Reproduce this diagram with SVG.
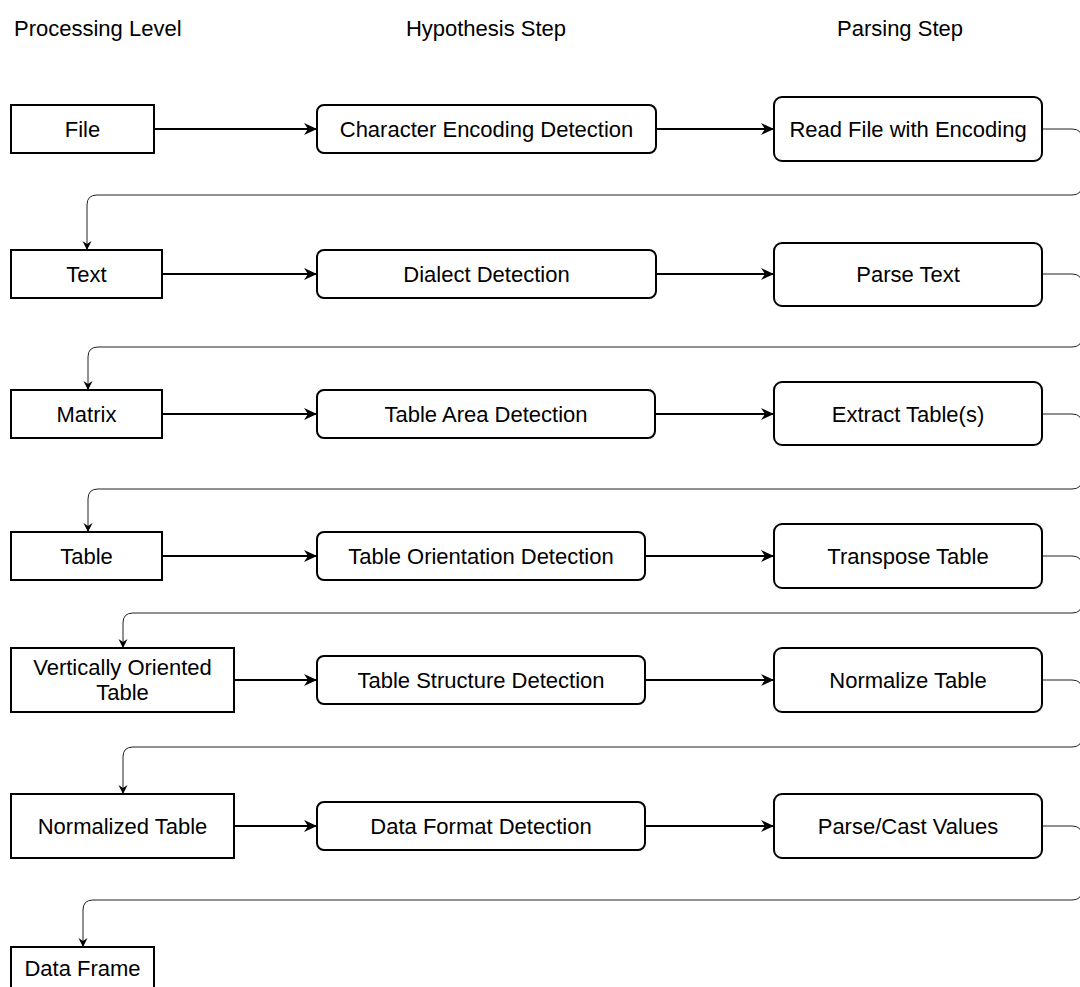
<svg xmlns="http://www.w3.org/2000/svg" width="1080" height="987" viewBox="0 0 1080 987">
<defs>
<style>
.lvl{fill:#fff;stroke:#000;stroke-width:2}
.hyp,.prs{fill:#fff;stroke:#000;stroke-width:2}
.t{font-family:"Liberation Sans",Arial,Helvetica,sans-serif;font-size:22px;fill:#000;text-anchor:middle;dominant-baseline:central}
.h{font-family:"Liberation Sans",Arial,Helvetica,sans-serif;font-size:22px;fill:#000;dominant-baseline:central}
.e{fill:none;stroke:#000;stroke-width:2}
.r{fill:none;stroke:#222;stroke-width:1}
</style>
<marker id="a" markerUnits="userSpaceOnUse" markerWidth="14" markerHeight="12" refX="13" refY="6" orient="auto">
<path d="M0,0 L13,6 L0,12 L4,6 z" fill="#000"/>
</marker>
<marker id="s" markerUnits="userSpaceOnUse" markerWidth="10" markerHeight="10" refX="9" refY="4.5" orient="auto">
<path d="M0,0 L9,4.5 L0,9 L3,4.5 z" fill="#000"/>
</marker>
</defs>
<rect width="1080" height="987" fill="#fff"/>
<g id="headers">
<text class="h" x="14" y="28">Processing Level</text>
<text class="h" x="486" y="28" text-anchor="middle">Hypothesis Step</text>
<text class="h" x="900" y="28" text-anchor="middle">Parsing Step</text>
</g>
<g id="connectors">
<path class="e" d="M154,129 H317" marker-end="url(#a)"/>
<path class="e" d="M656,129 H774" marker-end="url(#a)"/>
<path class="e" d="M162,274 H317" marker-end="url(#a)"/>
<path class="e" d="M656,274 H774" marker-end="url(#a)"/>
<path class="e" d="M162,414 H317" marker-end="url(#a)"/>
<path class="e" d="M655,414 H774" marker-end="url(#a)"/>
<path class="e" d="M162,556 H317" marker-end="url(#a)"/>
<path class="e" d="M645,556 H774" marker-end="url(#a)"/>
<path class="e" d="M234,680 H317" marker-end="url(#a)"/>
<path class="e" d="M645,680 H774" marker-end="url(#a)"/>
<path class="e" d="M234,826 H317" marker-end="url(#a)"/>
<path class="e" d="M645,826 H774" marker-end="url(#a)"/>
<path class="r" d="M1042,129 H1072 Q1082,129 1082,139 V185 Q1082,195 1072,195 H97 Q87,195 87,205 V250" marker-end="url(#s)"/>
<path class="r" d="M1042,274 H1072 Q1082,274 1082,284 V337 Q1082,347 1072,347 H98 Q88,347 88,357 V390" marker-end="url(#s)"/>
<path class="r" d="M1042,414 H1072 Q1082,414 1082,424 V479 Q1082,489 1072,489 H98 Q88,489 88,499 V532" marker-end="url(#s)"/>
<path class="r" d="M1042,556 H1072 Q1082,556 1082,566 V603 Q1082,613 1072,613 H133 Q123,613 123,623 V648" marker-end="url(#s)"/>
<path class="r" d="M1042,680 H1072 Q1082,680 1082,690 V737 Q1082,747 1072,747 H133 Q123,747 123,757 V794" marker-end="url(#s)"/>
<path class="r" d="M1042,826 H1072 Q1082,826 1082,836 V890 Q1082,900 1072,900 H93 Q83,900 83,910 V947" marker-end="url(#s)"/>
</g>
<g id="n-file"><rect class="lvl" x="11" y="105" width="143" height="48"/><text class="t" x="82.5" y="129">File</text></g>
<g id="n-ced"><rect class="hyp" x="317" y="105" width="339" height="48" rx="7"/><text class="t" x="486.5" y="129">Character Encoding Detection</text></g>
<g id="n-read"><rect class="prs" x="774" y="97" width="268" height="64" rx="8"/><text class="t" x="908" y="129">Read File with Encoding</text></g>

<g id="n-text"><rect class="lvl" x="11" y="250" width="151" height="48"/><text class="t" x="86.5" y="274">Text</text></g>
<g id="n-dialect"><rect class="hyp" x="317" y="250" width="339" height="48" rx="7"/><text class="t" x="486.5" y="274">Dialect Detection</text></g>
<g id="n-parsetext"><rect class="prs" x="774" y="243" width="268" height="63" rx="8"/><text class="t" x="908" y="274">Parse Text</text></g>

<g id="n-matrix"><rect class="lvl" x="11" y="390" width="151" height="48"/><text class="t" x="86.5" y="414">Matrix</text></g>
<g id="n-tad"><rect class="hyp" x="317" y="390" width="338" height="48" rx="7"/><text class="t" x="486" y="414">Table Area Detection</text></g>
<g id="n-extract"><rect class="prs" x="774" y="382" width="268" height="63" rx="8"/><text class="t" x="908" y="414">Extract Table(s)</text></g>

<g id="n-table"><rect class="lvl" x="11" y="532" width="151" height="48"/><text class="t" x="86.5" y="556">Table</text></g>
<g id="n-tod"><rect class="hyp" x="317" y="532" width="328" height="48" rx="7"/><text class="t" x="481" y="556">Table Orientation Detection</text></g>
<g id="n-transpose"><rect class="prs" x="774" y="524" width="268" height="64" rx="8"/><text class="t" x="908" y="556">Transpose Table</text></g>

<g id="n-vot"><rect class="lvl" x="11" y="648" width="223" height="64"/><text class="t" x="122.5" y="667">Vertically Oriented</text><text class="t" x="122.5" y="692">Table</text></g>
<g id="n-tsd"><rect class="hyp" x="317" y="656" width="328" height="48" rx="7"/><text class="t" x="481" y="680">Table Structure Detection</text></g>
<g id="n-normalize"><rect class="prs" x="774" y="648" width="268" height="64" rx="8"/><text class="t" x="908" y="680">Normalize Table</text></g>

<g id="n-nt"><rect class="lvl" x="11" y="794" width="223" height="64"/><text class="t" x="122.5" y="826">Normalized Table</text></g>
<g id="n-dfd"><rect class="hyp" x="317" y="802" width="328" height="48" rx="7"/><text class="t" x="481" y="826">Data Format Detection</text></g>
<g id="n-cast"><rect class="prs" x="774" y="794" width="268" height="64" rx="8"/><text class="t" x="908" y="826">Parse/Cast Values</text></g>

<g id="n-df"><rect class="lvl" x="11" y="947" width="143" height="50"/><text class="t" x="82.5" y="968">Data Frame</text></g>
</svg>
